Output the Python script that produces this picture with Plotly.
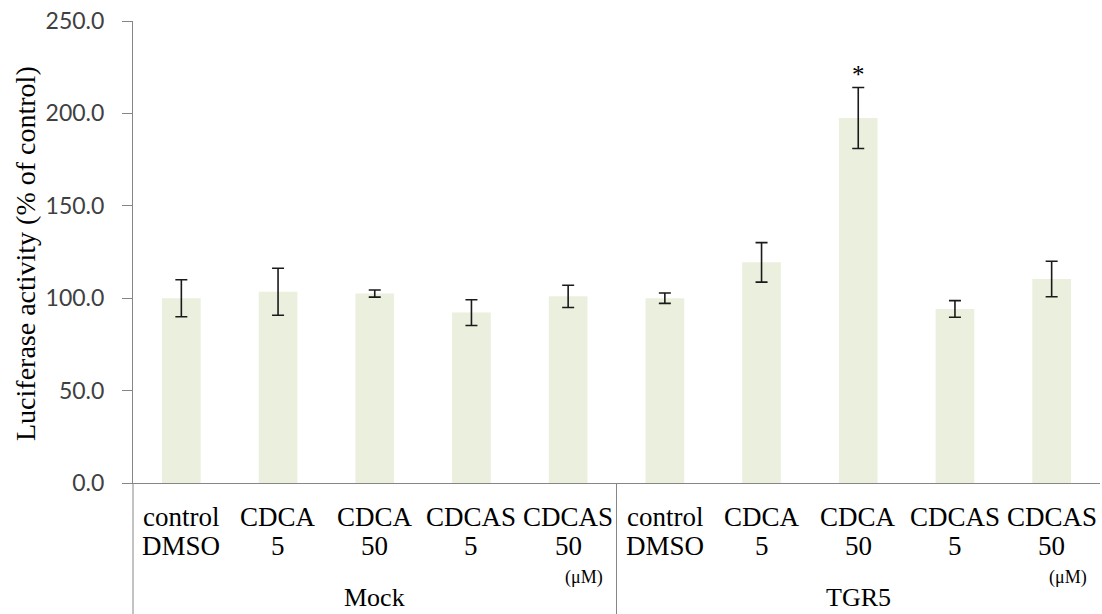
import plotly.graph_objects as go

# Treatment labels (two text rows under each bar) and their groups
row1 = ["control", "CDCA", "CDCA", "CDCAS", "CDCAS",
        "control", "CDCA", "CDCA", "CDCAS", "CDCAS"]
row2 = ["DMSO", "5", "50", "5", "50",
        "DMSO", "5", "50", "5", "50"]
groups = ["Mock", "TGR5"]
group_size = 5

# Luciferase activity (% of control) and error (±)
values = [100.0, 103.5, 102.5, 92.2, 101.0,
          100.0, 119.4, 197.5, 94.2, 110.4]
errors = [10.0, 12.7, 1.9, 7.0, 6.0,
          2.8, 10.7, 16.5, 4.5, 9.6]
significant = [False, False, False, False, False,
               False, False, True, False, False]

y_ticks = [0, 50, 100, 150, 200, 250]

W, H = 1102, 614
ML, MR, MT, MB = 133, 2, 21, 131
plot_h = H - MT - MB

def py(pix):
    """Convert a pixel row (from the figure top) to paper y."""
    return (H - MB - pix) / plot_h

n = len(values)
xs = list(range(n))

axis_col = "#868686"
serif = "Liberation Serif"
label_size = 27

fig = go.Figure()
fig.add_trace(go.Bar(
    x=xs, y=values,
    marker=dict(color="#EBF0DE", line=dict(width=0)),
    width=0.4,
    error_y=dict(type="data", array=errors, visible=True,
                 color="#1a1a1a", thickness=1.6, width=6),
    hoverinfo="y",
))

annotations = []
for i in range(n):
    annotations.append(dict(x=i, y=py(517), xref="x", yref="paper",
                            text=row1[i], showarrow=False,
                            font=dict(family=serif, size=label_size, color="#000"),
                            xanchor="center", yanchor="middle"))
    annotations.append(dict(x=i, y=py(546), xref="x", yref="paper",
                            text=row2[i], showarrow=False,
                            font=dict(family=serif, size=label_size, color="#000"),
                            xanchor="center", yanchor="middle"))
    if significant[i]:
        annotations.append(dict(x=i, y=values[i] + errors[i], xref="x", yref="y",
                                text="*", showarrow=False,
                                font=dict(family=serif, size=25, color="#000"),
                                xanchor="center", yanchor="bottom", yshift=-2))

for g, name in enumerate(groups):
    first = g * group_size
    last = first + group_size - 1
    annotations.append(dict(x=(first + last) / 2, y=py(H), xref="x", yref="paper",
                            text=name, showarrow=False,
                            font=dict(family=serif, size=26, color="#000"),
                            xanchor="center", yanchor="bottom"))
    annotations.append(dict(x=last, y=py(577), xref="x", yref="paper",
                            text="(μM)", showarrow=False, xshift=16,
                            font=dict(family=serif, size=18, color="#000"),
                            xanchor="center", yanchor="middle"))

# Rotated y-axis title
annotations.append(dict(x=(26 - ML) / (W - ML - MR), y=py(254), xref="paper", yref="paper",
                        text="Luciferase activity (% of control)", showarrow=False,
                        textangle=-90,
                        font=dict(family=serif, size=28, color="#000"),
                        xanchor="center", yanchor="middle"))

# Vertical separators in the category-label area
shapes = []
bottom = py(H)
for b in [0, group_size]:
    xp = b / n
    shapes.append(dict(type="line", xref="paper", yref="paper",
                       x0=xp, x1=xp, y0=0, y1=bottom,
                       line=dict(color=axis_col, width=1)))

fig.update_layout(
    width=W, height=H,
    margin=dict(l=ML, r=MR, t=MT, b=MB, autoexpand=False),
    paper_bgcolor="white", plot_bgcolor="white",
    showlegend=False,
    bargap=0.6,
    annotations=annotations,
    shapes=shapes,
    xaxis=dict(range=[-0.5, n - 0.5], showticklabels=False, ticks="",
               showgrid=False, zeroline=False,
               showline=True, linecolor=axis_col, linewidth=1,
               fixedrange=True),
    yaxis=dict(range=[0, 250], tickvals=y_ticks, tickformat=".1f",
               ticks="outside", ticklen=10, tickcolor=axis_col, tickwidth=1,
               showgrid=False, zeroline=False,
               showline=True, linecolor=axis_col, linewidth=1,
               tickfont=dict(family="Lato", size=23, color="#404040"),
               ticklabelstandoff=13,
               fixedrange=True),
)

fig.write_html("out.html")
